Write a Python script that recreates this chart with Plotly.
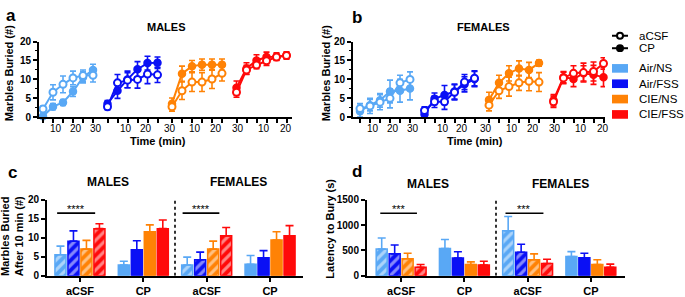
import plotly.graph_objects as go

W, H = 685, 297
FONT = "Arial, Liberation Sans, sans-serif"

# ---------------- data ----------------
GROUPS = ["Air/NS", "Air/FSS", "CIE/NS", "CIE/FSS"]
COLORS = ["#59a8f5", "#0a10f5", "#ff8205", "#ff0a0a"]
TIME = [5, 10, 15, 20, 25, 30]
TIME_TICK_TEXT = ["10", "20", "30"] * 4
# positions of the (oddly offset) time tick labels, in 5-min steps
TIME_TICK_POS = [1.3, 3.3, 5.3, 8.3, 10.25, 12.65, 15.2, 17.3, 19.45, 22.05, 24.25, 26.45]

# panel a (males): time course, mean and SEM
A_ACSF = [[2.2, 6.6, 8.7, 10.4, 11.0, 11.1],
          [2.8, 9.1, 9.8, 10.0, 11.4, 11.2],
          [2.8, 7.0, 9.3, 9.3, 10.1, 11.6],
          [6.6, 12.5, 13.8, 14.9, 15.9, 16.3]]
A_ACSF_ERR = [[0.8, 2.0, 2.2, 1.8, 1.5, 1.8],
              [0.8, 2.2, 2.0, 2.3, 2.5, 2.0],
              [1.2, 2.3, 2.5, 2.5, 2.5, 2.0],
              [1.3, 1.2, 1.0, 1.2, 0.8, 0.8]]
A_CP = [[0.3, 2.8, 3.9, 6.8, 10.6, 12.5],
        [3.6, 7.0, 10.0, 12.7, 14.3, 14.4],
        [3.6, 11.5, 13.5, 13.9, 13.9, 13.9],
        [7.8, 12.9, 15.0, 15.9, 16.0, 16.3]]
A_CP_ERR = [[0.5, 0.8, 0.8, 1.3, 1.5, 1.5],
            [0.8, 2.0, 2.2, 2.0, 1.8, 1.5],
            [1.5, 2.0, 1.5, 1.5, 1.5, 1.5],
            [1.8, 1.5, 1.5, 1.3, 1.0, 1.0]]

# panel b (females)
B_ACSF = [[2.3, 3.0, 4.0, 5.0, 9.1, 10.0],
          [1.8, 4.1, 4.1, 6.6, 9.3, 10.3],
          [3.2, 7.0, 8.1, 9.1, 9.5, 9.3],
          [4.1, 10.4, 11.6, 11.8, 12.1, 14.2]]
B_ACSF_ERR = [[1.3, 2.0, 2.0, 2.5, 2.0, 2.0],
              [1.0, 1.5, 2.0, 2.0, 2.0, 2.0],
              [1.5, 2.0, 2.5, 2.0, 2.5, 2.5],
              [1.5, 1.5, 2.0, 2.5, 2.5, 1.5]]
B_CP = [[1.6, 3.2, 4.5, 6.8, 7.0, 7.6],
        [0.8, 4.9, 5.9, 6.8, 8.7, 10.1],
        [4.6, 9.1, 11.6, 12.9, 12.5, 14.3],
        [4.5, 10.6, 10.1, 11.6, 11.2, 10.6]]
B_CP_ERR = [[1.5, 1.5, 1.8, 3.0, 3.0, 3.0],
            [1.5, 1.5, 2.5, 2.0, 2.0, 2.0],
            [2.0, 2.0, 2.0, 2.0, 2.0, 0.8],
            [1.5, 1.5, 2.0, 2.0, 2.5, 2.5]]

BAR_CATS = ["aCSF", "CP", "aCSF", "CP"]   # males aCSF, males CP, females aCSF, females CP
HATCH = ["/", "", "/", ""]
# panel c: marbles buried after 10 min
C_VAL = [[5.5, 2.8, 2.8, 3.0],
         [9.1, 6.8, 4.2, 4.7],
         [7.0, 11.6, 7.0, 9.4],
         [12.4, 12.4, 10.5, 10.5]]
C_ERR = [[2.3, 1.0, 2.1, 2.3],
         [2.7, 2.4, 2.0, 1.9],
         [2.3, 1.8, 2.1, 2.2],
         [1.3, 2.3, 2.2, 2.7]]
# panel d: latency to bury (s)
D_VAL = [[525, 538, 886, 380],
         [431, 348, 462, 354],
         [335, 222, 316, 222],
         [165, 209, 241, 165]]
D_ERR = [[221, 177, 285, 95],
         [176, 126, 158, 89],
         [108, 50, 114, 94],
         [57, 76, 82, 63]]

GROUP_STEP = 6.45  # spacing between time-course groups (in 5-min steps)


def fx(px):
    return px / W


def fy(py):
    return 1 - py / H


fig = go.Figure()

# ---------------- panels a & b ----------------
for (xa, ya, acsf, acsf_e, cp, cp_e) in [("x", "y", A_ACSF, A_ACSF_ERR, A_CP, A_CP_ERR),
                                          ("x2", "y2", B_ACSF, B_ACSF_ERR, B_CP, B_CP_ERR)]:
    for g, col in enumerate(COLORS):
        xs = [g * GROUP_STEP + (t - TIME[0]) / 5 for t in TIME]
        fig.add_trace(go.Scatter(
            x=xs, y=cp[g], xaxis=xa, yaxis=ya, mode="lines+markers",
            line=dict(color=col, width=2),
            marker=dict(symbol="circle", size=7, color=col, line=dict(color=col, width=1.5)),
            error_y=dict(type="data", array=cp_e[g], color=col, thickness=1.6, width=3),
            cliponaxis=False, showlegend=False))
        fig.add_trace(go.Scatter(
            x=xs, y=acsf[g], xaxis=xa, yaxis=ya, mode="lines+markers",
            line=dict(color=col, width=2),
            marker=dict(symbol="circle", size=7, color="white", line=dict(color=col, width=2)),
            error_y=dict(type="data", array=acsf_e[g], color=col, thickness=1.6, width=3),
            cliponaxis=False, showlegend=False))

# ---------------- panels c & d ----------------
for (xa, ya, vals, errs) in [("x3", "y3", C_VAL, C_ERR), ("x4", "y4", D_VAL, D_ERR)]:
    for g, col in enumerate(COLORS):
        fig.add_trace(go.Bar(
            x=list(range(len(BAR_CATS))), y=vals[g], xaxis=xa, yaxis=ya,
            marker=dict(color=col, line=dict(color=col, width=1.5),
                        pattern=dict(shape=HATCH, fgcolor="white", fillmode="overlay",
                                     size=7, solidity=0.45)),
            error_y=dict(type="data", array=errs[g], arrayminus=[0] * len(errs[g]),
                         symmetric=False, color=col, thickness=1.6, width=4),
            showlegend=False))

axis_common = dict(showline=True, linecolor="black", linewidth=2, ticks="outside",
                   tickcolor="black", tickwidth=1.6, ticklen=4, showgrid=False,
                   zeroline=False, fixedrange=True)
ytick_font = dict(family=FONT, size=10, color="black", weight="bold")

layout = dict(
    width=W, height=H, margin=dict(l=0, r=0, t=0, b=0),
    paper_bgcolor="white", plot_bgcolor="white",
    font=dict(family=FONT, color="black"),
    barmode="group", bargap=0.18, bargroupgap=0.15,
    xaxis=dict(domain=[fx(39), fx(292)], range=[-0.4, 24.9], anchor="y",
               tickvals=[g * GROUP_STEP + j for g in range(4) for j in range(6)],
               showticklabels=False, **axis_common),
    yaxis=dict(domain=[fy(116), fy(37)], range=[0, 20], anchor="x", dtick=5,
               tickfont=ytick_font, minor=dict(ticks="outside", dtick=2.5, ticklen=2.5,
                                               tickcolor="black", tickwidth=1.4),
               **axis_common),
    xaxis2=dict(domain=[fx(353), fx(605)], range=[-0.7, 24.5], anchor="y2",
                tickvals=[g * GROUP_STEP + j for g in range(4) for j in range(6)],
                showticklabels=False, **axis_common),
    yaxis2=dict(domain=[fy(116), fy(37)], range=[0, 20], anchor="x2", dtick=5,
                tickfont=ytick_font, minor=dict(ticks="outside", dtick=2.5, ticklen=2.5,
                                                tickcolor="black", tickwidth=1.4),
                **axis_common),
    xaxis3=dict(domain=[fx(47), fx(303)], range=[-0.52, 3.52], anchor="y3",
                tickvals=list(range(4)), ticktext=BAR_CATS,
                tickfont=dict(family=FONT, size=11, color="black", weight="bold"),
                **axis_common),
    yaxis3=dict(domain=[fy(281), fy(202)], range=[0, 20], anchor="x3", dtick=5,
                tickfont=ytick_font, **axis_common),
    xaxis4=dict(domain=[fx(367), fx(625)], range=[-0.54, 3.54], anchor="y4",
                tickvals=list(range(4)), ticktext=BAR_CATS,
                tickfont=dict(family=FONT, size=11, color="black", weight="bold"),
                **axis_common),
    yaxis4=dict(domain=[fy(281), fy(202)], range=[0, 1500], anchor="x4", dtick=500,
                tickfont=ytick_font, **axis_common),
)
fig.update_layout(**layout)

ann = []
shapes = []


def text(px, py, s, size=11, bold=True, angle=0, xanchor="center"):
    ann.append(dict(x=fx(px), y=fy(py), xref="paper", yref="paper", text=s,
                    showarrow=False, textangle=angle, xanchor=xanchor, yanchor="middle",
                    borderpad=0,
                    font=dict(family=FONT, size=size, color="black",
                              weight="bold" if bold else "normal")))


# time tick labels (a and b)
for xa in ["x", "x2"]:
    for pos, lab in zip(TIME_TICK_POS, TIME_TICK_TEXT):
        ann.append(dict(x=pos, y=fy(128), xref=xa, yref="paper", text=lab, showarrow=False,
                        xanchor="center", yanchor="middle",
                        font=dict(family=FONT, size=10, color="black")))

# panel letters
text(11, 10, "a", size=17)
text(357, 12, "b", size=17)
text(12, 173, "c", size=17)
text(357, 172, "d", size=17)

# titles
text(166, 22, "MALES", size=11)
text(483, 22, "FEMALES", size=11)
text(158, 141, "Time (min)", size=11)
text(475, 141, "Time (min)", size=11)
text(108, 183, "MALES", size=12)
text(239, 183, "FEMALES", size=12)
text(428, 185, "MALES", size=12)
text(560, 185, "FEMALES", size=12)

# y-axis titles
text(9, 70, "Marbles Buried (#)", size=11, angle=-90)
text(326, 70, "Marbles Buried (#)", size=11, angle=-90)
text(12, 240, "Marbles Buried<br>After 10 min (#)", size=11, angle=-90)
text(330, 232, "Latency to Bury (s)", size=11, angle=-90)

# dotted dividers
shapes.append(dict(type="line", xref="x3", yref="y3", x0=1.5, x1=1.5, y0=0, y1=20,
                   line=dict(color="black", width=1.6, dash="dot")))
shapes.append(dict(type="line", xref="x4", yref="y4", x0=1.5, x1=1.5, y0=0, y1=1500,
                   line=dict(color="black", width=1.6, dash="dot")))

# significance bars
SIG = [("x3", "y3", -0.36, 0.24, 16.5, "****"), ("x3", "y3", 1.62, 2.2, 16.5, "****"),
       ("x4", "y4", -0.33, 0.25, 1234, "***"), ("x4", "y4", 1.65, 2.25, 1234, "***")]
for xa, ya, x0, x1, yv, s in SIG:
    shapes.append(dict(type="line", xref=xa, yref=ya, x0=x0, x1=x1, y0=yv, y1=yv,
                       line=dict(color="black", width=1.6)))
    ann.append(dict(x=(x0 + x1) / 2, y=yv, xref=xa, yref=ya, text=s, showarrow=False,
                    yanchor="bottom", yshift=-4,
                    font=dict(family=FONT, size=11, color="black")))

# legend
LEG_X0, LEG_X1, LEG_TX = 612, 628, 638
for py, label, filled in [(31, "aCSF", False), (44, "CP", True)]:
    shapes.append(dict(type="line", xref="paper", yref="paper", x0=fx(LEG_X0), x1=fx(LEG_X1),
                       y0=fy(py), y1=fy(py), line=dict(color="black", width=2)))
    r = 3
    cx = (LEG_X0 + LEG_X1) / 2
    shapes.append(dict(type="circle", xref="paper", yref="paper",
                       x0=fx(cx - r), x1=fx(cx + r), y0=fy(py + r), y1=fy(py - r),
                       fillcolor="black" if filled else "white",
                       line=dict(color="black", width=2)))
    text(LEG_TX, py, label, size=11.5, bold=False, xanchor="left")
for py, label, col in zip([65, 81, 97, 113], GROUPS, COLORS):
    shapes.append(dict(type="rect", xref="paper", yref="paper", x0=fx(LEG_X0), x1=fx(LEG_X1),
                       y0=fy(py + 4.5), y1=fy(py - 4.5), fillcolor=col, line=dict(width=0)))
    text(LEG_TX, py, label, size=11.5, bold=False, xanchor="left")

fig.update_layout(annotations=ann, shapes=shapes)
fig.write_html("out.html", config={"displayModeBar": False},
               post_script="document.body.style.margin='0';")
